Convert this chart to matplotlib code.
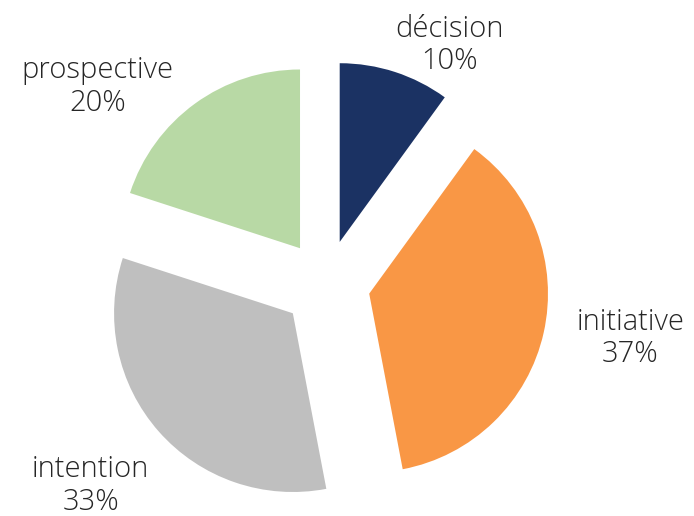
import matplotlib.pyplot as plt

labels = ['décision', 'initiative', 'intention', 'prospective']
values = [10, 37, 33, 20]
colors = ['#1B3263', '#F99745', '#BFBFBF', '#B8D9A5']
# label centres in pie units (radius = 1)
label_pos = [(0.70, 1.35), (1.72, -0.305), (-1.33, -1.14), (-1.29, 1.115)]

fig = plt.figure(figsize=(6.94, 5.16), dpi=100)
ax = fig.add_axes([0, 0, 1, 1])

wedges, texts = ax.pie(values, colors=colors, startangle=90, counterclock=False,
                       explode=[0.25] * 4, radius=1.01,
                       labels=[f'{l}\n{v}%' for l, v in zip(labels, values)],
                       textprops=dict(fontsize=21, color='#262626', family='Open Sans',
                                      fontweight='light', ha='center', va='center',
                                      linespacing=1.12))
for t, p in zip(texts, label_pos):
    t.set_position(p)
    t.set_horizontalalignment('center')

ax.set_xlim(-1.842, 2.079)
ax.set_ylim(-1.311, 1.605)
ax.set_aspect('auto')
ax.axis('off')

fig.savefig('out.png', dpi=100)
